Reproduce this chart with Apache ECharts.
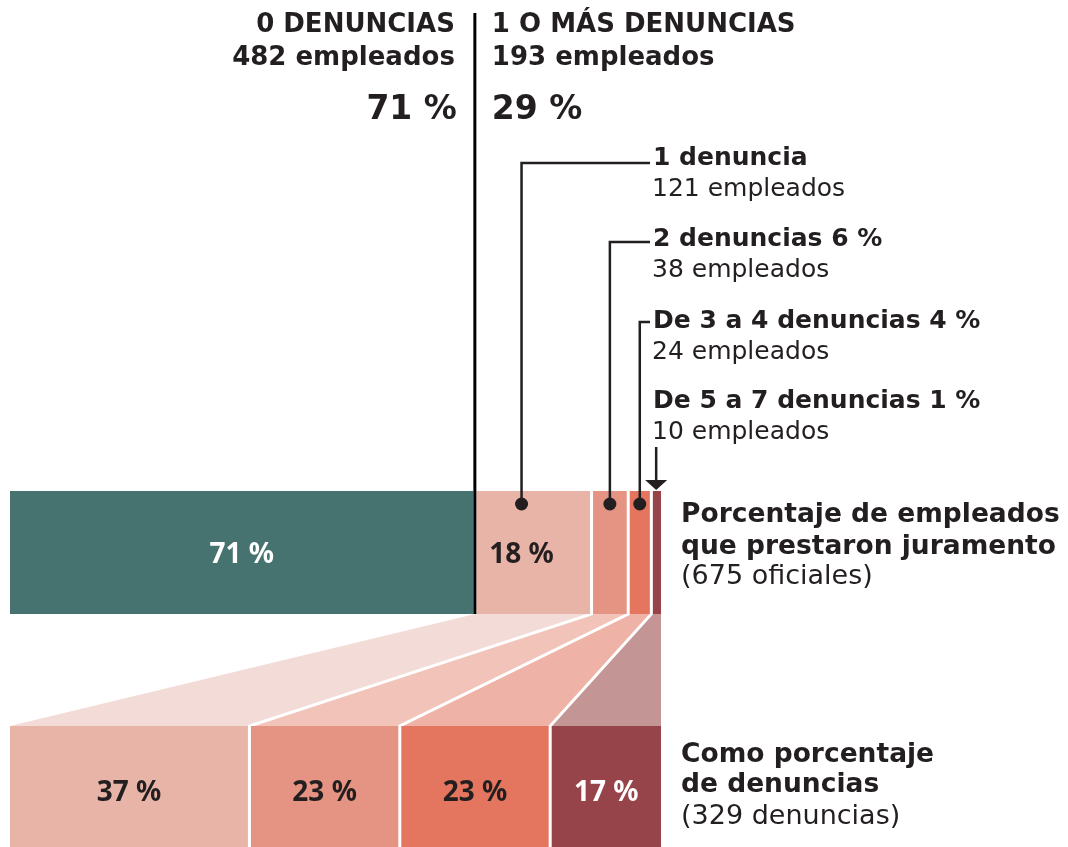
<!DOCTYPE html>
<html>
<head>
<meta charset="utf-8">
<script src="https://cdn.jsdelivr.net/npm/echarts@6/dist/echarts.min.js"></script>
<style>
  html, body { margin: 0; padding: 0; background: #fff; }
  #main { width: 1068px; height: 847px; }
</style>
</head>
<body>
<div id="main"></div>
<script>
// employee groups by number of complaints
const groups = ['0 denuncias', '1 denuncia', '2 denuncias', 'De 3 a 4 denuncias', 'De 5 a 7 denuncias'];
const employees = [482, 121, 38, 24, 10];
// complaints filed, for the groups with 1 or more
const complaints = [121, 76, 76, 56];

const barColors = ['#467270', '#e8b4a8', '#e59382', '#e4765f', '#96444a'];
const barLabelColors = ['#ffffff', '#231f20', '#231f20', '#231f20', '#ffffff'];
const compColors = ['#e8b4a8', '#e59382', '#e4765f', '#96444a'];
const compLabelColors = ['#231f20', '#231f20', '#231f20', '#ffffff'];
const linkColors = ['#f3dcd8', '#f1c3b9', '#efb2a6', '#c49595'];

const FONT = '"DejaVu Sans", sans-serif';
const BAR_FONT = '"Noto Sans", sans-serif';
const INK = '#231f20';

const totalEmp = employees.reduce((a, b) => a + b, 0);
const totalComp = complaints.reduce((a, b) => a + b, 0);
const pct = (v, t) => Math.round(v / t * 100) + ' %';

function spans(vals) {
  let acc = 0;
  return vals.map((v) => {
    const s = acc;
    acc += v;
    return [s, acc, v];
  });
}
const empSpans = spans(employees);
const compSpans = spans(complaints);
const links = compSpans.map((c, i) => [
  empSpans[i + 1][0] / totalEmp, empSpans[i + 1][1] / totalEmp,
  c[0] / totalComp, c[1] / totalComp
]);

// where the leader dot / label sits inside a segment (0 = left edge, 1 = right edge)
const anchorAt = [0.5, 0.4, 0.5, 0.5, 0.5];

function barRender(total, colors, labelColors, dy, anchors) {
  return (params, api) => {
    const s = api.value(0), e = api.value(1), v = api.value(2);
    const i = params.dataIndex;
    const a = api.coord([s, 1]);
    const b = api.coord([e, 0]);
    const x0 = a[0] + (s > 0 ? 1.5 : 0);
    const x1 = b[0] - (e < total ? 1.5 : 0);
    const el = {
      type: 'rect',
      shape: { x: x0, y: a[1], width: x1 - x0, height: b[1] - a[1] },
      style: { fill: colors[i] }
    };
    if (x1 - x0 > 60) {
      const dx = anchors ? (anchors[i] - 0.5) * (b[0] - a[0]) : 0;
      el.textContent = {
        style: { text: pct(v, total), fill: labelColors[i], font: 'bold 28px ' + BAR_FONT }
      };
      el.textConfig = { position: 'inside', offset: [dx, dy] };
    }
    return el;
  };
}

function linkRender(params, api) {
  const i = params.dataIndex;
  const t0 = api.coord([api.value(0), 1]);
  const t1 = api.coord([api.value(1), 1]);
  const b0 = api.coord([api.value(2), 0]);
  const b1 = api.coord([api.value(3), 0]);
  const children = [{
    type: 'polygon',
    shape: { points: [t0, t1, b1, b0] },
    style: { fill: linkColors[i] }
  }];
  if (i > 0) {
    children.push({
      type: 'polyline',
      shape: { points: [[t0[0], t0[1] - 3], t0, b0, [b0[0], b0[1] + 3]] },
      style: { stroke: '#fff', lineWidth: 3, fill: null }
    });
  }
  return { type: 'group', children };
}

const chart = echarts.init(document.getElementById('main'));

const hidden = { show: false };
chart.setOption({
  animation: false,
  grid: [
    { left: 10, width: 651, top: 491, height: 123 },
    { left: 10, width: 651, top: 614, height: 112 },
    { left: 10, width: 651, top: 726, height: 121 }
  ],
  xAxis: [
    { gridIndex: 0, type: 'value', min: 0, max: totalEmp, ...hidden },
    { gridIndex: 1, type: 'value', min: 0, max: 1, ...hidden },
    { gridIndex: 2, type: 'value', min: 0, max: totalComp, ...hidden }
  ],
  yAxis: [
    { gridIndex: 0, type: 'value', min: 0, max: 1, ...hidden },
    { gridIndex: 1, type: 'value', min: 0, max: 1, ...hidden },
    { gridIndex: 2, type: 'value', min: 0, max: 1, ...hidden }
  ],
  series: [
    {
      type: 'custom', xAxisIndex: 1, yAxisIndex: 1, clip: false,
      encode: { x: [0, 1, 2, 3] },
      renderItem: linkRender, data: links
    },
    {
      type: 'custom', xAxisIndex: 0, yAxisIndex: 0, clip: false,
      encode: { x: [0, 1] },
      renderItem: barRender(totalEmp, barColors, barLabelColors, 3, anchorAt), data: empSpans
    },
    {
      type: 'custom', xAxisIndex: 2, yAxisIndex: 2, clip: false,
      encode: { x: [0, 1] },
      renderItem: barRender(totalComp, compColors, compLabelColors, 7), data: compSpans
    }
  ]
});

// annotations placed from the axis scale
const px = (v) => chart.convertToPixel({ xAxisIndex: 0 }, v);
const barTop = chart.convertToPixel({ yAxisIndex: 0 }, 1);
const barBottom = chart.convertToPixel({ yAxisIndex: 0 }, 0);
const split = px(employees[0]);
const barRight = px(totalEmp);

function txt(x, y, text, size, bold, align) {
  return {
    type: 'text', x, y, z: 20,
    style: {
      text, fill: INK, font: (bold ? 'bold ' : '') + size + 'px ' + FONT,
      align: align || 'left', textAlign: align || 'left',
      verticalAlign: 'middle', textVerticalAlign: 'middle'
    }
  };
}

const more = employees.slice(1).reduce((a, b) => a + b, 0);
const g = [
  { type: 'line', z: 30, shape: { x1: split, y1: 13, x2: split, y2: barBottom }, style: { stroke: '#000', lineWidth: 3 } },
  txt(split - 20, 25, groups[0].toUpperCase(), 26, true, 'right'),
  txt(split - 20, 58, employees[0] + ' empleados', 26, true, 'right'),
  txt(split - 18, 110, pct(employees[0], totalEmp), 33, true, 'right'),
  txt(split + 17, 25, '1 O MÁS DENUNCIAS', 26, true, 'left'),
  txt(split + 17, 58, more + ' empleados', 26, true, 'left'),
  txt(split + 17, 110, pct(more, totalEmp), 33, true, 'left')
];

const labelX = barRight - 11;
const labelMid = [158, 239, 321, 401];
const lineY = [163, 242, 322];
for (let i = 1; i < groups.length; i++) {
  const k = i - 1;
  const head = groups[i] + (i > 1 ? ' ' + pct(employees[i], totalEmp) : '');
  g.push(txt(labelX + 3, labelMid[k], head, 25, true));
  g.push(txt(labelX + 2, labelMid[k] + 31, employees[i] + ' empleados', 25, false));
  const cx = px(empSpans[i][0] + anchorAt[i] * employees[i]);
  if (k < lineY.length) {
    g.push({
      type: 'polyline', z: 25,
      shape: { points: [[cx, barTop + 13], [cx, lineY[k]], [labelX, lineY[k]]] },
      style: { stroke: INK, lineWidth: 2.5, fill: null }
    });
    g.push({ type: 'circle', z: 26, shape: { cx, cy: barTop + 13, r: 6.5 }, style: { fill: INK } });
  } else {
    g.push({ type: 'line', z: 25, shape: { x1: cx, y1: 447, x2: cx, y2: barTop - 9 }, style: { stroke: INK, lineWidth: 2.5 } });
    g.push({
      type: 'polygon', z: 25,
      shape: { points: [[cx - 11, barTop - 11], [cx + 11, barTop - 11], [cx, barTop - 1]] },
      style: { fill: INK }
    });
  }
}

const rx = barRight + 20;
g.push(txt(rx, 515, 'Porcentaje de empleados', 26.5, true));
g.push(txt(rx, 547, 'que prestaron juramento', 26.5, true));
g.push(txt(rx, 577, '(' + totalEmp + ' oficiales)', 27, false));
g.push(txt(rx, 755, 'Como porcentaje', 26.5, true));
g.push(txt(rx, 785, 'de denuncias', 26.5, true));
g.push(txt(rx, 817, '(' + totalComp + ' denuncias)', 27, false));

chart.setOption({ graphic: g });
</script>
</body>
</html>
